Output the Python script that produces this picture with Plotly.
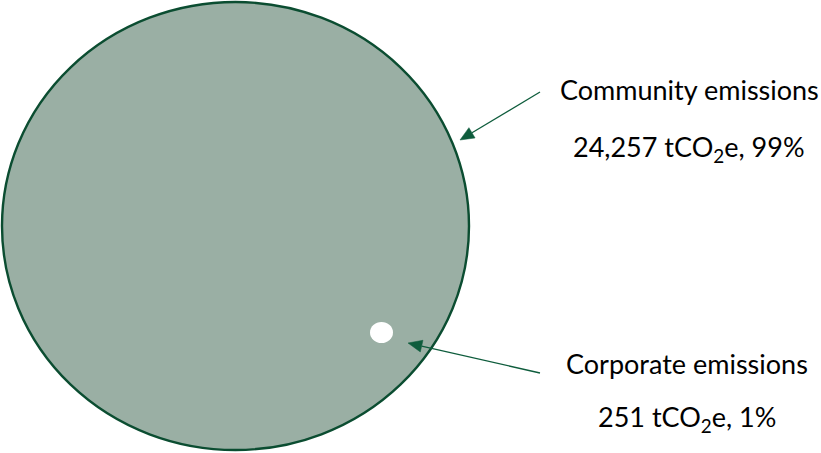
import math
import plotly.graph_objects as go

# Emission categories and their values
categories = ["Community emissions", "Corporate emissions"]
emissions_t = [24257, 251]
shares_pct = [99, 1]

W, H = 821, 453
ARROW_COLOR = "#0E5C3C"

fig = go.Figure()

# Large circle: community emissions
fig.add_shape(type="circle", xref="x", yref="y",
              x0=2, x1=469, y0=2, y1=450,
              fillcolor="#9AAFA4", line=dict(color="#0B4D31", width=2.4), layer="below")
# Small circle: corporate emissions
fig.add_shape(type="circle", xref="x", yref="y",
              x0=370, x1=393, y0=322, y1=343,
              fillcolor="#FFFFFF", line=dict(width=0), layer="below")


def add_arrow(tip, tail, head_len=14, head_half=6):
    """Leader line from tail to tip, ending in a filled triangular head."""
    dx, dy = tip[0] - tail[0], tip[1] - tail[1]
    n = math.hypot(dx, dy)
    ux, uy = dx / n, dy / n
    bx, by = tip[0] - ux * head_len, tip[1] - uy * head_len
    px, py = -uy, ux
    fig.add_shape(type="line", xref="x", yref="y",
                  x0=tail[0], y0=tail[1], x1=bx, y1=by,
                  line=dict(color=ARROW_COLOR, width=1.3))
    path = (f"M {tip[0]} {tip[1]} "
            f"L {bx + px * head_half} {by + py * head_half} "
            f"L {bx - px * head_half} {by - py * head_half} Z")
    fig.add_shape(type="path", xref="x", yref="y", path=path,
                  fillcolor=ARROW_COLOR, line=dict(color=ARROW_COLOR, width=0.5))


font = dict(family="Lato, Carlito, Open Sans, sans-serif", size=27, color="#000000")

label_pos = [(689, 89, 148), (687, 363, 418)]
arrows = [((460, 140), (540, 92)), ((408, 343), (540, 373))]

for cat, val, pct, (cx, y1, y2), (tip, tail) in zip(categories, emissions_t, shares_pct, label_pos, arrows):
    fig.add_annotation(x=cx, y=y1, xref="x", yref="y", text=cat, showarrow=False,
                       font=font, xanchor="center", yanchor="middle")
    fig.add_annotation(x=cx, y=y2, xref="x", yref="y",
                       text=f"{val:,} tCO<sub>2</sub>e, {pct}%", showarrow=False,
                       font=font, xanchor="center", yanchor="middle")
    add_arrow(tip, tail)

fig.update_xaxes(range=[0, W], visible=False, fixedrange=True)
fig.update_yaxes(range=[H, 0], visible=False, fixedrange=True)
fig.update_layout(width=W, height=H, margin=dict(l=0, r=0, t=0, b=0),
                  paper_bgcolor="white", plot_bgcolor="white", showlegend=False)

fig.write_html("out.html")
